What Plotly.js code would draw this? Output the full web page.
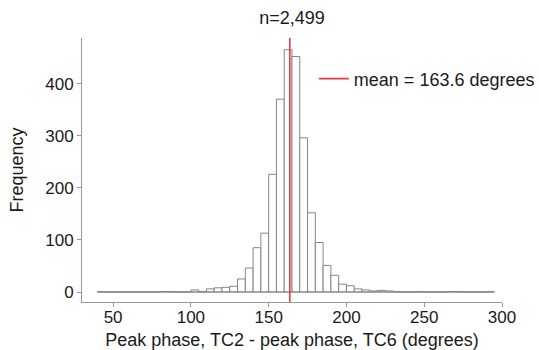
<!DOCTYPE html>
<html>
<head>
<meta charset="utf-8">
<script src="https://cdn.plot.ly/plotly-3.0.1.min.js"></script>
<style>html,body{margin:0;padding:0;background:#fff;}#chart{width:539px;height:350px;}</style>
</head>
<body>
<div id="chart"></div>
<script>
// Histogram bins (left edges, degrees) and counts
const binStart = [40,45,50,55,60,65,70,75,80,85,90,95,100,105,110,115,120,125,130,135,140,145,150,155,160,165,170,175,180,185,190,195,200,205,210,215,220,225,230,235,240,245,250,255,260,265,270,275,280,285,290];
const counts   = [1,0,0,0,0,0,0,0,1,1,0,0,4,1,6,8,9,11,25,46,85,113,226,370,465,452,296,152,95,51,32,15,12,6,4,2,3,2,1,0,0,1,0,0,0,1,1,0,0,0,1];
const binWidth = 5;
const meanValue = 163.6;
const nObs = "2,499";
const xTicks = [50,100,150,200,250,300];
const yTicks = [0,100,200,300,400];
const xRange = [30, 300];
const yRange = [-19.2, 487.5];

const family = "Liberation Sans, Arial, Helvetica, sans-serif";
const font = {family: family, size: 17, color: "#1a1a1a"};
const barLine = "#858585";

const traces = [
  {
    type: "scatter", mode: "lines",
    x: [binStart[0], binStart[binStart.length-1] + binWidth], y: [0, 0],
    line: {color: barLine, width: 1}, hoverinfo: "skip", showlegend: false
  },
  {
    type: "bar", x: binStart, y: counts, width: binWidth, offset: 0,
    marker: {color: "rgba(255,255,255,1)", line: {color: barLine, width: 1}},
    showlegend: false
  },
  {
    type: "scatter", mode: "lines", x: [meanValue, meanValue], y: yRange,
    line: {color: "#e63c40", width: 1.6},
    name: "mean = " + meanValue.toFixed(1) + " degrees"
  }
];

const layout = {
  width: 539, height: 350,
  margin: {l: 82, r: 37, t: 38, b: 48, autoexpand: false},
  paper_bgcolor: "#fff", plot_bgcolor: "#fff",
  font: font,
  title: {text: "n=" + nObs, font: {family: family, size: 18, color: "#1a1a1a"}, x: 0.5, xref: "paper", y: 1 - 18/350, yref: "container", yanchor: "middle"},
  xaxis: {
    range: xRange, tickvals: xTicks, ticktext: xTicks.map(String),
    showgrid: false, zeroline: false, showline: true, linecolor: "#999", linewidth: 1,
    ticks: "outside", ticklen: 4, tickcolor: "#999", tickfont: {size: 17},
    ticklabelstandoff: -4,
    title: {text: "Peak phase, TC2 - peak phase, TC6 (degrees)", font: {size: 18}, standoff: 8}
  },
  yaxis: {
    range: yRange, tickvals: yTicks, ticktext: yTicks.map(String),
    showgrid: false, zeroline: false, showline: true, linecolor: "#999", linewidth: 1,
    ticks: "outside", ticklen: 4, tickcolor: "#999", tickfont: {size: 17},
    title: {text: "Frequency", font: {size: 18}, standoff: 16}
  },
  showlegend: true,
  legend: {x: 0.552, xanchor: "left", y: 0.845, yanchor: "middle", bgcolor: "rgba(0,0,0,0)", font: {size: 18}},
  bargap: 0
};

Plotly.newPlot("chart", traces, layout, {displayModeBar: false, staticPlot: true});
</script>
</body>
</html>
